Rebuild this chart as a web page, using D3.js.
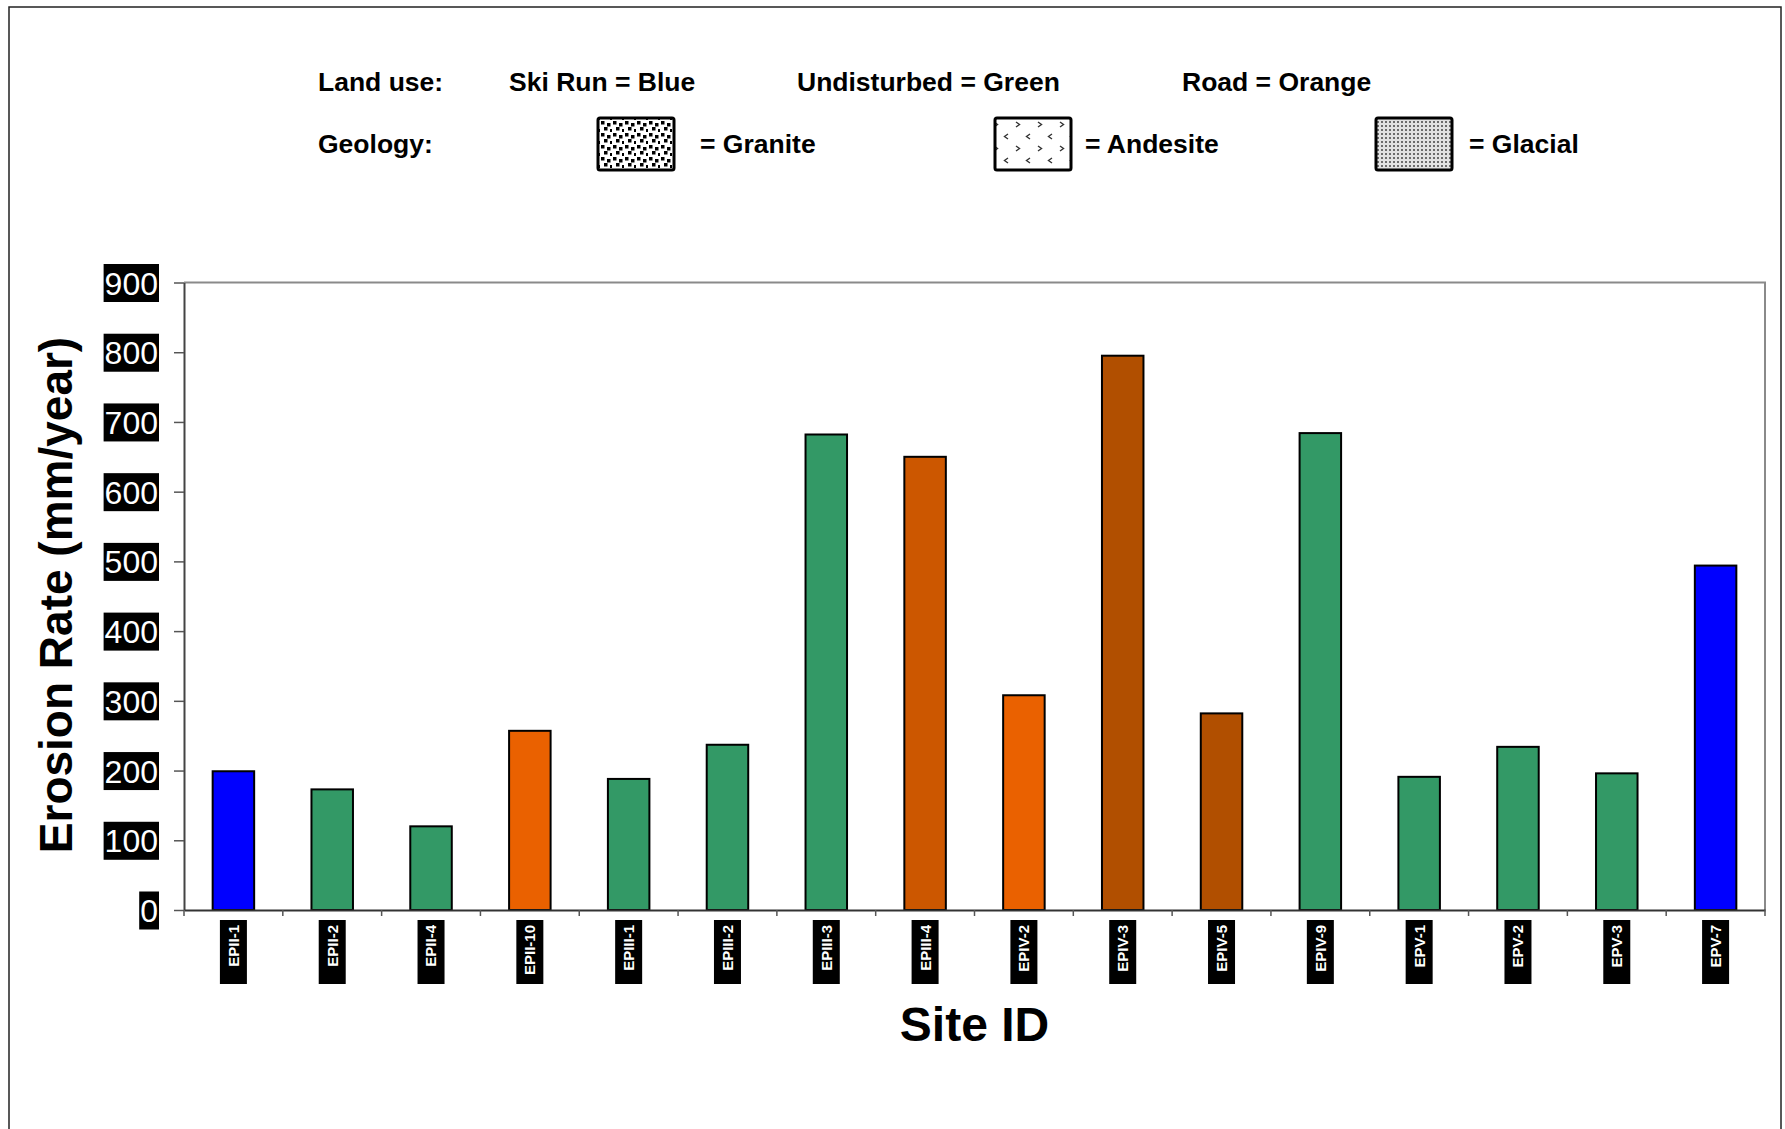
<!DOCTYPE html>
<html>
<head>
<meta charset="utf-8">
<script src="https://cdn.jsdelivr.net/npm/d3@7"></script>
<style>
  html, body { margin: 0; padding: 0; background: #fff; }
  svg { display: block; font-family: "Liberation Sans", Arial, Helvetica, sans-serif; }
</style>
</head>
<body>
<svg id="chart" width="1785" height="1129"></svg>
<script>
// ---------- data ----------
const sites = ["EPII-1","EPII-2","EPII-4","EPII-10","EPIII-1","EPIII-2","EPIII-3","EPIII-4",
               "EPIV-2","EPIV-3","EPIV-5","EPIV-9","EPV-1","EPV-2","EPV-3","EPV-7"];
const erosion = [199, 173, 120, 257, 188, 237, 682, 650, 308, 795, 282, 684, 191, 234, 196, 494];
const barClass = ["ski","undisturbed","undisturbed","road1","undisturbed","undisturbed","undisturbed","road2",
                  "road1","road3","road3","undisturbed","undisturbed","undisturbed","undisturbed","ski"];
const yTicks = [0, 100, 200, 300, 400, 500, 600, 700, 800, 900];
const landUseLegend = ["Ski Run = Blue", "Undisturbed = Green", "Road = Orange"];
const geologyLegend = ["= Granite", "= Andesite", "= Glacial"];
const geologyPatterns = ["granite", "andesite", "glacial"];

// ---------- setup ----------
const svg = d3.select("#chart");
const plot = { left: 184, right: 1765, top: 282.5, bottom: 910 };

const color = d3.scaleOrdinal()
  .domain(["ski","undisturbed","road1","road2","road3"])
  .range(["#0000FF","#339966","#EA6100","#CC5700","#B14F00"]);

// patterns
const defs = svg.append("defs");
// granite: staggered black squares
const pg = defs.append("pattern").attr("id","granite").attr("patternUnits","userSpaceOnUse")
  .attr("width",12).attr("height",12);
pg.append("rect").attr("width",12).attr("height",12).attr("fill","#fff");
[[1,1],[7,3],[4,7],[10,9]].forEach(([x,y]) =>
  pg.append("rect").attr("x",x).attr("y",y).attr("width",3.5).attr("height",3.5).attr("fill","#000"));
// andesite: chevrons
const pa = defs.append("pattern").attr("id","andesite").attr("patternUnits","userSpaceOnUse")
  .attr("width",22).attr("height",24);
pa.append("rect").attr("width",22).attr("height",24).attr("fill","#fff");
pa.append("path").attr("d","M4,2 L7.5,4.5 L4,7").attr("fill","none").attr("stroke","#333").attr("stroke-width",1.4);
pa.append("path").attr("d","M18,14 L14.5,16.5 L18,19").attr("fill","none").attr("stroke","#333").attr("stroke-width",1.4);
// glacial: fine dot grid
const pl = defs.append("pattern").attr("id","glacial").attr("patternUnits","userSpaceOnUse")
  .attr("width",4).attr("height",4);
pl.append("rect").attr("width",4).attr("height",4).attr("fill","#e2e2e2");
pl.append("circle").attr("cx",2).attr("cy",2).attr("r",1).attr("fill","#444");

// outer border
svg.append("rect").attr("x",9).attr("y",7).attr("width",1772).attr("height",1200)
  .attr("fill","none").attr("stroke","#222").attr("stroke-width",1.5);

// ---------- legend ----------
const legFont = 26.5;
const row1 = 91, row2 = 153;
svg.append("text").attr("x",318).attr("y",row1).attr("font-size",legFont).attr("font-weight","bold").text("Land use:");
const luX = [509, 797, 1182];
landUseLegend.forEach((t,i) => svg.append("text").attr("x",luX[i]).attr("y",row1)
  .attr("font-size",legFont).attr("font-weight","bold").text(t));
svg.append("text").attr("x",318).attr("y",row2).attr("font-size",legFont).attr("font-weight","bold").text("Geology:");
const boxX = [598, 995, 1376], txtX = [700, 1085, 1469];
geologyLegend.forEach((t,i) => {
  svg.append("rect").attr("x",boxX[i]).attr("y",118).attr("width",76).attr("height",52).attr("rx",2)
    .attr("fill",`url(#${geologyPatterns[i]})`).attr("stroke","#000").attr("stroke-width",3);
  svg.append("text").attr("x",txtX[i]).attr("y",row2).attr("font-size",legFont).attr("font-weight","bold").text(t);
});

// ---------- scales ----------
const x = d3.scaleBand().domain(sites).range([plot.left, plot.right]).paddingInner(0.58).paddingOuter(0.29);
const y = d3.scaleLinear().domain([0, 900]).range([plot.bottom, plot.top]);
const step = x.step();

// plot frame (top and right)
svg.append("path")
  .attr("d", `M${plot.left},${plot.top}H${plot.right}V${plot.bottom}`)
  .attr("fill","none").attr("stroke","#8a8a8a").attr("stroke-width",2);

// bars
svg.append("g").selectAll("rect").data(sites).join("rect")
  .attr("x", d => x(d))
  .attr("y", (d,i) => y(erosion[i]))
  .attr("width", x.bandwidth())
  .attr("height", (d,i) => y(0) - y(erosion[i]))
  .attr("fill", (d,i) => color(barClass[i]))
  .attr("stroke","#000").attr("stroke-width",2);

// y axis
const yAxis = svg.append("g").attr("transform",`translate(${plot.left},0)`)
  .call(d3.axisLeft(y).tickValues(yTicks).tickSize(10).tickPadding(16).tickSizeOuter(0));
yAxis.select(".domain").attr("stroke","#444").attr("stroke-width",2);
yAxis.selectAll(".tick line").attr("stroke","#555").attr("stroke-width",1.5);
yAxis.selectAll(".tick text").attr("font-size",32).attr("fill","#fff")
  .attr("font-family",'"Liberation Sans", Arial, sans-serif').attr("dy","0.36em");
yAxis.selectAll(".tick").each(function() {
  const t = d3.select(this).select("text");
  const bb = t.node().getBBox();
  d3.select(this).insert("rect","text")
    .attr("x", bb.x - 1).attr("y", -19).attr("width", bb.width + 2).attr("height", 38)
    .attr("fill","#000");
});

// x axis
const xAxis = svg.append("g").attr("transform",`translate(0,${plot.bottom})`)
  .call(d3.axisBottom(x).tickSize(0).tickSizeOuter(0).tickFormat(""));
xAxis.select(".domain").attr("stroke","#333").attr("stroke-width",2);
// boundary ticks between categories
const bounds = sites.map(s => x(s) - (step - x.bandwidth())/2).concat([plot.right]);
xAxis.selectAll("line.bound").data(bounds).join("line").attr("class","bound")
  .attr("x1", d => d).attr("x2", d => d).attr("y1",0).attr("y2",6)
  .attr("stroke","#555").attr("stroke-width",1.5);

// x tick labels (rotated, white on black)
const xl = svg.append("g").selectAll("g").data(sites).join("g")
  .attr("transform", d => `translate(${x(d) + x.bandwidth()/2},0)`);
xl.append("rect").attr("x",-13.5).attr("y",920).attr("width",27).attr("height",64).attr("fill","#000");
xl.append("text")
  .attr("transform","translate(0,925) rotate(-90)")
  .attr("text-anchor","end").attr("dy","0.36em")
  .attr("font-size",15).attr("font-weight","bold").attr("fill","#fff")
  .text(d => d);

// axis titles
svg.append("text").attr("transform","translate(72,595) rotate(-90)")
  .attr("text-anchor","middle").attr("font-size",46).attr("font-weight","bold")
  .text("Erosion Rate (mm/year)");
svg.append("text").attr("x",(plot.left+plot.right)/2).attr("y",1041)
  .attr("text-anchor","middle").attr("font-size",48).attr("font-weight","bold")
  .text("Site ID");
</script>
</body>
</html>
